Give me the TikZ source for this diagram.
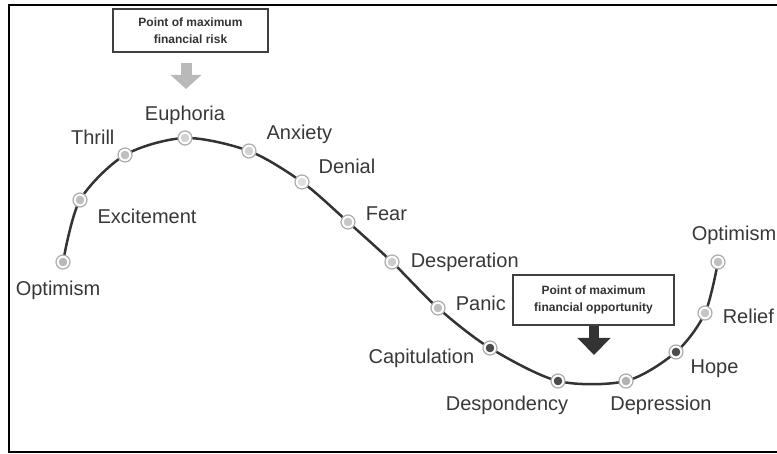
\documentclass[tikz,border=0pt]{standalone}
\usepackage{fontspec}
\setmainfont{Liberation Sans}
\usetikzlibrary{arrows.meta, positioning, backgrounds}

\begin{document}
\begin{tikzpicture}[x=1pt, y=-1pt,
    dot/.style={circle, draw=gray!65, line width=1.2pt, fill=white, minimum size=14pt, inner sep=0pt,
        path picture={\fill[#1] (path picture bounding box.center) circle (4.3pt);}},
    word/.style={inner sep=0pt, text height=14.5pt, text depth=0pt, text=black!78,
        font=\fontsize{20}{24}\selectfont},
    note/.style={draw=black!75, line width=1.6pt, fill=white, align=center, text=black!80,
        font=\bfseries\fontsize{12}{17}\selectfont}]
    \useasboundingbox (0,0) rectangle (777,454);
    \draw[line width=2.5pt] (9,5) rectangle (800,452);

    \node[dot=gray!55] (opt1) at (63,262) {};
    \node[dot=gray!50] (exc) at (80,200) {};
    \node[dot=gray!50] (thr) at (125,155) {};
    \node[dot=gray!35] (eup) at (185,138) {};
    \node[dot=gray!35] (anx) at (249,151) {};
    \node[dot=gray!25] (den) at (302,182) {};
    \node[dot=gray!45] (fea) at (348,222) {};
    \node[dot=gray!40] (desp) at (392,262) {};
    \node[dot=gray!50] (pan) at (438,308) {};
    \node[dot=black!70] (cap) at (490,348) {};
    \node[dot=black!70] (dpd) at (558,381) {};
    \node[dot=gray!60] (dpr) at (626,381) {};
    \node[dot=black!70] (hop) at (676,352) {};
    \node[dot=gray!45] (rel) at (705,313) {};
    \node[dot=gray!50] (opt2) at (718,262) {};
    \begin{scope}[on background layer]
        \draw[line width=2.5pt, black!80] plot[smooth] coordinates {(opt1.center) (exc.center)
            (thr.center) (eup.center) (anx.center) (den.center) (fea.center) (desp.center)
            (pan.center) (cap.center) (dpd.center) (dpr.center) (hop.center) (rel.center) (opt2.center)};
    \end{scope}

    \node[word, below=11pt of opt1, xshift=-5pt] (opt1-l) {Optimism};
    \node[word, below right=3.5pt and 12pt of exc] (exc-l) {Excitement};
    \node[word, above left=5pt and 5pt of thr] (thr-l) {Thrill};
    \node[word, above=10pt of eup] (eup-l) {Euphoria};
    \node[word, above right=6pt and 12pt of anx] (anx-l) {Anxiety};
    \node[word, above right=3pt and 11pt of den] (den-l) {Denial};
    \node[word, right=10pt of fea, yshift=9pt] (fea-l) {Fear};
    \node[word, right=11pt of desp, yshift=2pt] (desp-l) {Desperation};
    \node[word, right=10pt of pan, yshift=5pt] (pan-l) {Panic};
    \node[word, left=8pt of cap, yshift=-8pt] (cap-l) {Capitulation};
    \node[word, below=7.5pt of dpd, xshift=-51pt] (dpd-l) {Despondency};
    \node[word, below=7.5pt of dpr, xshift=35pt] (dpr-l) {Depression};
    \node[word, below right=1.5pt and 9pt of hop] (hop-l) {Hope};
    \node[word, right=10pt of rel, yshift=-3pt] (rel-l) {Relief};
    \node[word, above=14pt of opt2, xshift=16pt] (opt2-l) {Optimism};

    \node[note, minimum width=155pt, minimum height=43pt] (risk) at (190.5,30.5) {Point of maximum\\financial risk};
    \node[note, minimum width=161pt, minimum height=50pt] (opp) at (593.5,300) {Point of maximum\\financial opportunity};
    \coordinate (risktip) at (186,89);
    \coordinate (opptip) at (594,355);
    \draw[line width=11pt, gray!55, -{Triangle[length=14pt, width=30pt]}] ([xshift=-4.5pt, yshift=-10pt]risk.south) -- (risktip);
    \draw[line width=10pt, black!80, -{Triangle[length=17pt, width=32pt]}] ([xshift=0.5pt]opp.south) -- (opptip);
\end{tikzpicture}
\end{document}
